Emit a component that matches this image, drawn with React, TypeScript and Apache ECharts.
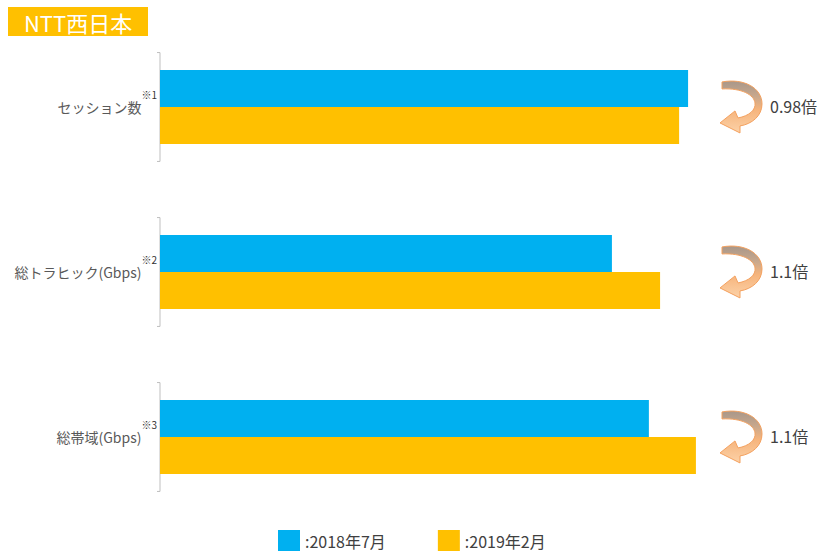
import React, { useEffect, useRef } from 'react';
import * as echarts from 'echarts';

const titleText = 'NTT西日本';
const categories = ['セッション数', '総トラヒック(Gbps)', '総帯域(Gbps)'];
const notes = ['※1', '※2', '※3'];
const seriesNames = ['2018年7月', '2019年2月'];
// relative bar lengths (% of the value axis)
const values2018 = [94.3, 80.7, 87.3];
const values2019 = [92.7, 89.3, 95.7];
const ratioLabels = ['0.98倍', '1.1倍', '1.1倍'];

const FONT = '"Noto Sans CJK JP", "Noto Sans", sans-serif';
const BLUE = '#00B0F0';
const YELLOW = '#FFC000';

const ARROW_D =
  'M 2 2 C 24 -2 42 8 42 24 C 42 36 32 44 20 46 L 20 53 L 0 43 L 15 31 L 18 38 C 29 36 36 30 35 23 C 34 15 22 8 2 9 Z';

export default function App() {
  const ref = useRef<HTMLDivElement>(null);
  useEffect(() => {
    if (!ref.current) return;
    const chart = echarts.init(ref.current, null, { renderer: 'svg' });
    const arrowFill = new echarts.graphic.LinearGradient(0, 0, 0, 1, [
      { offset: 0, color: '#a8978a' },
      { offset: 0.3, color: '#c9a88c' },
      { offset: 0.55, color: '#f6b47c' },
      { offset: 1, color: '#fcd2a8' },
    ]);
    const idxData = categories.map((_, i) => [0, i]);
    chart.setOption({
      animation: false,
      textStyle: { fontFamily: FONT },
      graphic: [
        { type: 'rect', shape: { x: 8, y: 7, width: 140, height: 29 }, style: { fill: YELLOW } },
        {
          type: 'text',
          x: 78,
          y: 22,
          style: {
            text: titleText,
            fill: '#ffffff',
            fontSize: 22,
            fontFamily: FONT,
            align: 'center',
            verticalAlign: 'middle',
          },
        },
      ],
      legend: {
        data: seriesNames,
        left: 278,
        top: 530,
        padding: 0,
        icon: 'rect',
        itemWidth: 22,
        itemHeight: 21,
        itemGap: 52,
        formatter: ':{name}',
        textStyle: { fontSize: 16, lineHeight: 18, color: '#404040', fontFamily: FONT },
      },
      grid: { left: 160, top: 24.5, width: 560, height: 495, outerBoundsMode: 'none', containLabel: false },
      xAxis: { type: 'value', min: 0, max: 100, show: false },
      yAxis: {
        type: 'category',
        data: categories,
        inverse: true,
        axisLine: { show: false },
        axisTick: { show: false },
        axisLabel: {
          margin: 3,
          formatter: (v: string, i: number) => `{a|${v}}{s|${notes[i]}}`,
          rich: {
            a: { fontSize: 14, color: '#595959', fontFamily: FONT },
            s: { fontSize: 10, color: '#333333', fontFamily: FONT, padding: [0, 0, 26, 0] },
          },
        },
      },
      series: [
        {
          name: seriesNames[0],
          type: 'bar',
          data: values2018,
          barWidth: 37,
          barGap: '0%',
          itemStyle: { color: BLUE },
        },
        {
          name: seriesNames[1],
          type: 'bar',
          data: values2019,
          barWidth: 37,
          barGap: '0%',
          itemStyle: { color: YELLOW },
        },
        {
          type: 'custom',
          coordinateSystem: 'cartesian2d',
          data: idxData,
          encode: { x: 0, y: 1 },
          silent: true,
          renderItem: (params: any, api: any) => {
            const idx = api.value(1);
            const p = api.coord([0, idx]);
            const h = api.size([0, 1])[1] * 0.33;
            const x = p[0];
            const y = p[1];
            return {
              type: 'polyline',
              shape: { points: [[x - 3, y - h], [x, y - h], [x, y + h], [x - 3, y + h]] },
              style: { stroke: '#bfbfbf', lineWidth: 1, fill: 'none' },
            };
          },
        },
        {
          type: 'custom',
          coordinateSystem: 'cartesian2d',
          data: idxData,
          encode: { x: 0, y: 1 },
          silent: true,
          renderItem: (params: any, api: any) => {
            const idx = api.value(1);
            const cy = api.coord([0, idx])[1];
            const cx = 741;
            return {
              type: 'group',
              children: [
                {
                  type: 'path',
                  shape: { pathData: ARROW_D, x: cx - 21, y: cy - 26, width: 42, height: 52 },
                  style: { fill: arrowFill, stroke: '#f4a15f', lineWidth: 1 },
                },
                {
                  type: 'text',
                  x: 770,
                  y: cy - 1,
                  style: {
                    text: ratioLabels[idx],
                    fill: '#404040',
                    fontSize: 16,
                    fontFamily: FONT,
                    align: 'left',
                    verticalAlign: 'middle',
                  },
                },
              ],
            };
          },
        },
      ],
    });
    return () => chart.dispose();
  }, []);
  return (
    <div
      ref={ref}
      style={{ position: 'fixed', left: 0, top: 0, width: 823, height: 556, background: '#ffffff' }}
    />
  );
}
